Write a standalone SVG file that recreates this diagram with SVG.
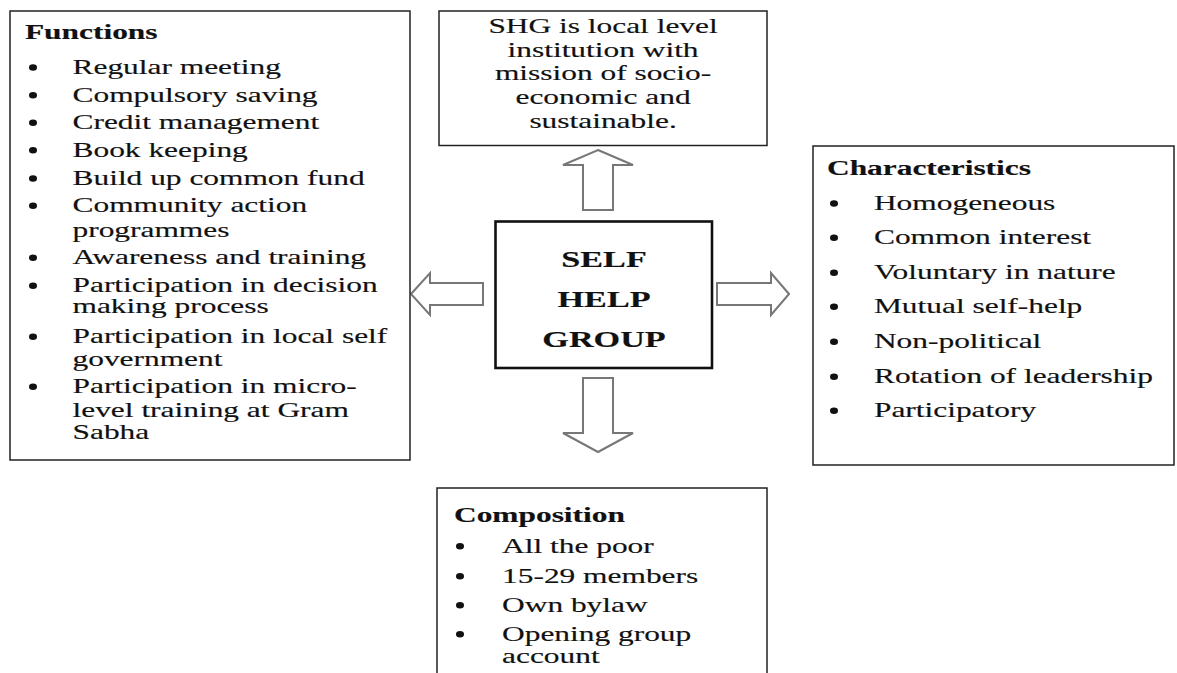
<svg xmlns="http://www.w3.org/2000/svg" width="1177" height="673" viewBox="0 0 1177 673">
<style>
text{font-family:"Liberation Serif","Times New Roman",serif;font-size:20.4px;fill:#111;stroke:#111;stroke-width:0.15}
.b{font-weight:bold}
.c{text-anchor:middle}
.big{font-size:22.5px;font-weight:bold;text-anchor:middle}
.box{fill:#fff;stroke:#222;stroke-width:1.5}
.core{fill:#fff;stroke:#111;stroke-width:2.6}
.arr{fill:#fff;stroke:#777;stroke-width:2;stroke-linejoin:miter}
.dot{fill:#111}
</style>
<defs><ellipse id="bl" class="dot" cx="0" cy="0" rx="4" ry="3.3"/></defs>
<rect width="1177" height="673" fill="#fff"/>
<g id="connectors">
<path class="arr" d="M598,150 L633,165 L613,165 L613,210 L583,210 L583,165 L563,165 Z"/>
<path class="arr" d="M411,294 L430,273 L430,283 L483,283 L483,305 L430,305 L430,315 Z"/>
<path class="arr" d="M789,294 L771,273 L771,283 L717,283 L717,305 L771,305 L771,315 Z"/>
<path class="arr" d="M598,452 L633,433 L613,433 L613,378 L583,378 L583,433 L563,433 Z"/>
</g>
<g id="functions">
<rect class="box" x="10" y="11" width="400" height="449"/>
<use href="#bl" x="33" y="67.5"/><use href="#bl" x="33" y="95.2"/><use href="#bl" x="33" y="122.8"/><use href="#bl" x="33" y="150.2"/><use href="#bl" x="33" y="178.5"/><use href="#bl" x="33" y="205.8"/><use href="#bl" x="33" y="257.8"/><use href="#bl" x="33" y="285.8"/><use href="#bl" x="33" y="336.8"/><use href="#bl" x="33" y="386.8"/>
<g transform="scale(1.54 1)">
<text class="b" x="16.2" y="39">Functions</text>
<text x="47.1" y="74">Regular meeting</text>
<text x="47.1" y="101.7">Compulsory saving</text>
<text x="47.1" y="129.3">Credit management</text>
<text x="47.1" y="156.7">Book keeping</text>
<text x="47.1" y="185">Build up common fund</text>
<text x="47.1" y="212.3">Community action</text>
<text x="47.1" y="237.3">programmes</text>
<text x="47.1" y="264.3">Awareness and training</text>
<text x="47.1" y="292.3">Participation in decision</text>
<text x="47.1" y="313.3">making process</text>
<text x="47.1" y="343.3">Participation in local self</text>
<text x="47.1" y="366">government</text>
<text x="47.1" y="393.3">Participation in micro-</text>
<text x="47.1" y="416.7">level training at Gram</text>
<text x="47.1" y="439.3">Sabha</text>
</g>
</g>
<g id="mission">
<rect class="box" x="439" y="11" width="328" height="134.5"/>
<g transform="scale(1.54 1)">
<text class="c" x="391.6" y="33">SHG is local level</text>
<text class="c" x="391.6" y="57">institution with</text>
<text class="c" x="391.6" y="80.5">mission of socio-</text>
<text class="c" x="391.6" y="104">economic and</text>
<text class="c" x="391.6" y="128">sustainable.</text>
</g>
</g>
<g id="shg">
<rect class="core" x="495.5" y="221.5" width="216.5" height="146.5"/>
<g transform="scale(1.52 1)">
<text class="big" x="397.4" y="267">SELF</text>
<text class="big" x="397.4" y="307">HELP</text>
<text class="big" x="397.4" y="347">GROUP</text>
</g>
</g>
<g id="characteristics">
<rect class="box" x="813" y="146" width="361" height="319"/>
<use href="#bl" x="834" y="203.5"/><use href="#bl" x="834" y="237.8"/><use href="#bl" x="834" y="272.8"/><use href="#bl" x="834" y="306.8"/><use href="#bl" x="834" y="341.8"/><use href="#bl" x="834" y="376.8"/><use href="#bl" x="834" y="410.8"/>
<g transform="scale(1.54 1)">
<text class="b" x="537" y="175">Characteristics</text>
<text x="567.5" y="210">Homogeneous</text>
<text x="567.5" y="244.3">Common interest</text>
<text x="567.5" y="279.3">Voluntary in nature</text>
<text x="567.5" y="313.3">Mutual self-help</text>
<text x="567.5" y="348.3">Non-political</text>
<text x="567.5" y="383.3">Rotation of leadership</text>
<text x="567.5" y="417.3">Participatory</text>
</g>
</g>
<g id="composition">
<rect class="box" x="437" y="488" width="330" height="200"/>
<use href="#bl" x="460" y="546.2"/><use href="#bl" x="460" y="576.2"/><use href="#bl" x="460" y="605.2"/><use href="#bl" x="460" y="634.2"/>
<g transform="scale(1.54 1)">
<text class="b" x="294.8" y="521.7">Composition</text>
<text x="326" y="552.7">All the poor</text>
<text x="326" y="582.7">15-29 members</text>
<text x="326" y="611.7">Own bylaw</text>
<text x="326" y="640.7">Opening group</text>
<text x="326" y="663.3">account</text>
</g>
</g>
</svg>
